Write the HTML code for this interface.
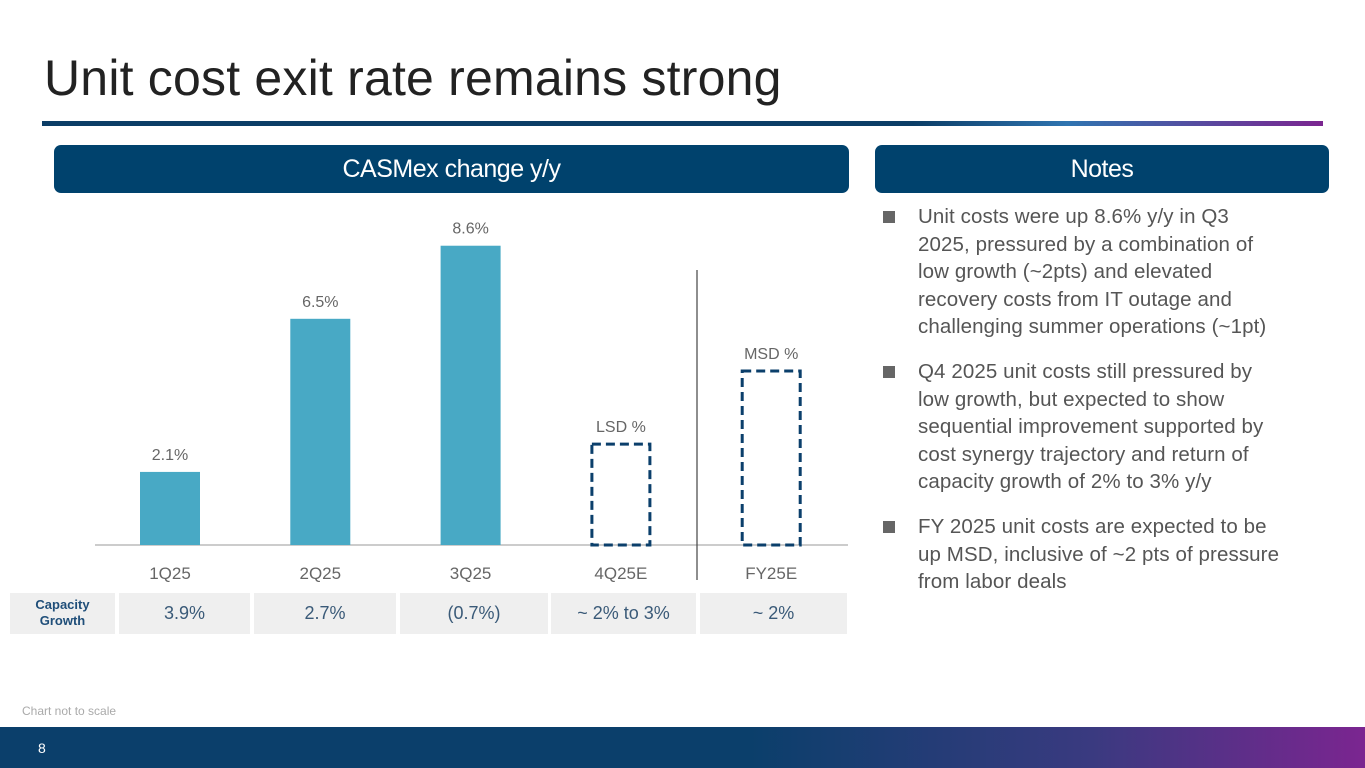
<!DOCTYPE html>
<html><head><meta charset="utf-8"><style>
body{margin:0;width:1365px;height:768px;position:relative;overflow:hidden;background:#fff;font-family:"Liberation Sans",sans-serif;}
.abs{position:absolute;}
.hdr{position:absolute;background:#00426d;color:#fff;border-radius:7px;font-size:25px;text-align:center;line-height:48px;letter-spacing:-0.5px}
.notes{position:absolute;left:883px;top:203px;width:460px;font-size:20.5px;line-height:27.5px;color:#555;white-space:nowrap;}
.note{position:relative;padding-left:35px;margin-bottom:17.5px;letter-spacing:0.1px}
.note:before{content:"";position:absolute;left:0;top:8px;width:12px;height:12px;background:#666;}
.cell{position:absolute;top:593px;height:41px;background:#efefef;color:#3a5a78;font-size:18px;line-height:41px;text-align:center;}
</style></head><body>
<div class="abs" style="left:44px;top:49px;font-size:50px;color:#222;letter-spacing:0.2px">Unit cost exit rate remains strong</div>
<div class="abs" style="left:42px;top:121px;width:1281px;height:5px;background:linear-gradient(90deg,#0b3d66 0%,#0b3d66 68%,#2f74b0 80%,#7b2590 100%)"></div>
<div class="hdr" style="left:54px;top:145px;width:795px;height:48px">CASMex change y/y</div>
<div class="hdr" style="left:875px;top:145px;width:454px;height:48px">Notes</div>
<svg class="abs" style="left:0;top:0" width="860" height="640">
<g id="g"></g></svg>
<div class="cell" style="left:10px;width:105px;font-size:13px;font-weight:bold;line-height:16px;padding-top:4px;height:37px;color:#1f4e79">Capacity<br>Growth</div>
<div class="cell" style="left:119px;width:131px">3.9%</div>
<div class="cell" style="left:254px;width:142px">2.7%</div>
<div class="cell" style="left:400px;width:148px">(0.7%)</div>
<div class="cell" style="left:551px;width:145px">~ 2% to 3%</div>
<div class="cell" style="left:700px;width:147px">~ 2%</div>
<div class="notes">
<div class="note">Unit costs were up 8.6% y/y in Q3<br>2025, pressured by a combination of<br>low growth (~2pts) and elevated<br>recovery costs from IT outage and<br>challenging summer operations (~1pt)</div>
<div class="note">Q4 2025 unit costs still pressured by<br>low growth, but expected to show<br>sequential improvement supported by<br>cost synergy trajectory and return of<br>capacity growth of 2% to 3% y/y</div>
<div class="note">FY 2025 unit costs are expected to be<br>up MSD, inclusive of ~2 pts of pressure<br>from labor deals</div>
</div>
<div class="abs" style="left:22px;top:704px;font-size:12px;color:#aaa">Chart not to scale</div>
<div class="abs" style="left:0;top:727px;width:1365px;height:41px;background:linear-gradient(90deg,#0b3f6b 0%,#0b3f6b 55%,#3a3a80 80%,#7b2590 100%)"></div>
<div class="abs" style="left:38px;top:740px;font-size:14px;color:#fff">8</div>
<script>
const categories=["1Q25","2Q25","3Q25","4Q25E","FY25E"];
const values=[2.1,6.5,8.6,2.9,5.0];
const labels=["2.1%","6.5%","8.6%","LSD %","MSD %"];
const estimated=[false,false,false,true,true];
const g=document.getElementById('g');const NS="http://www.w3.org/2000/svg";
const base=545,scale=34.8,x0=170,step=150.3,bw=60;
const y=v=>base-v*scale, x=i=>x0+i*step;
function mk(t,a){const e=document.createElementNS(NS,t);for(const k in a)e.setAttribute(k,a[k]);g.appendChild(e);return e;}
let ax=mk('line',{x1:95,x2:848,y1:base,y2:base,stroke:'#ccc','stroke-width':2});


let dv=mk('line',{x1:697,x2:697,y1:270,y2:580,stroke:'#444','stroke-width':1.2});


categories.forEach((c,i)=>{
 let b;
 if(estimated[i]) b=mk('rect',{x:x(i)-bw/2+1,y:y(values[i]),width:bw-2,height:base-y(values[i]),fill:'none',stroke:'#0b3f6b','stroke-width':3,'stroke-dasharray':'9,5'});
 else b=mk('rect',{x:x(i)-bw/2,y:y(values[i]),width:bw,height:base-y(values[i]),fill:'#48a9c5'});
 
 
 let t=mk('text',{x:x(i),y:y(values[i])-12,'text-anchor':'middle','font-size':16,fill:'#666'});t.textContent=labels[i];
 
 
 let l=mk('text',{x:x(i),y:579,'text-anchor':'middle','font-size':17,fill:'#666'});l.textContent=c;
 
 
});
</script>
</body></html>
